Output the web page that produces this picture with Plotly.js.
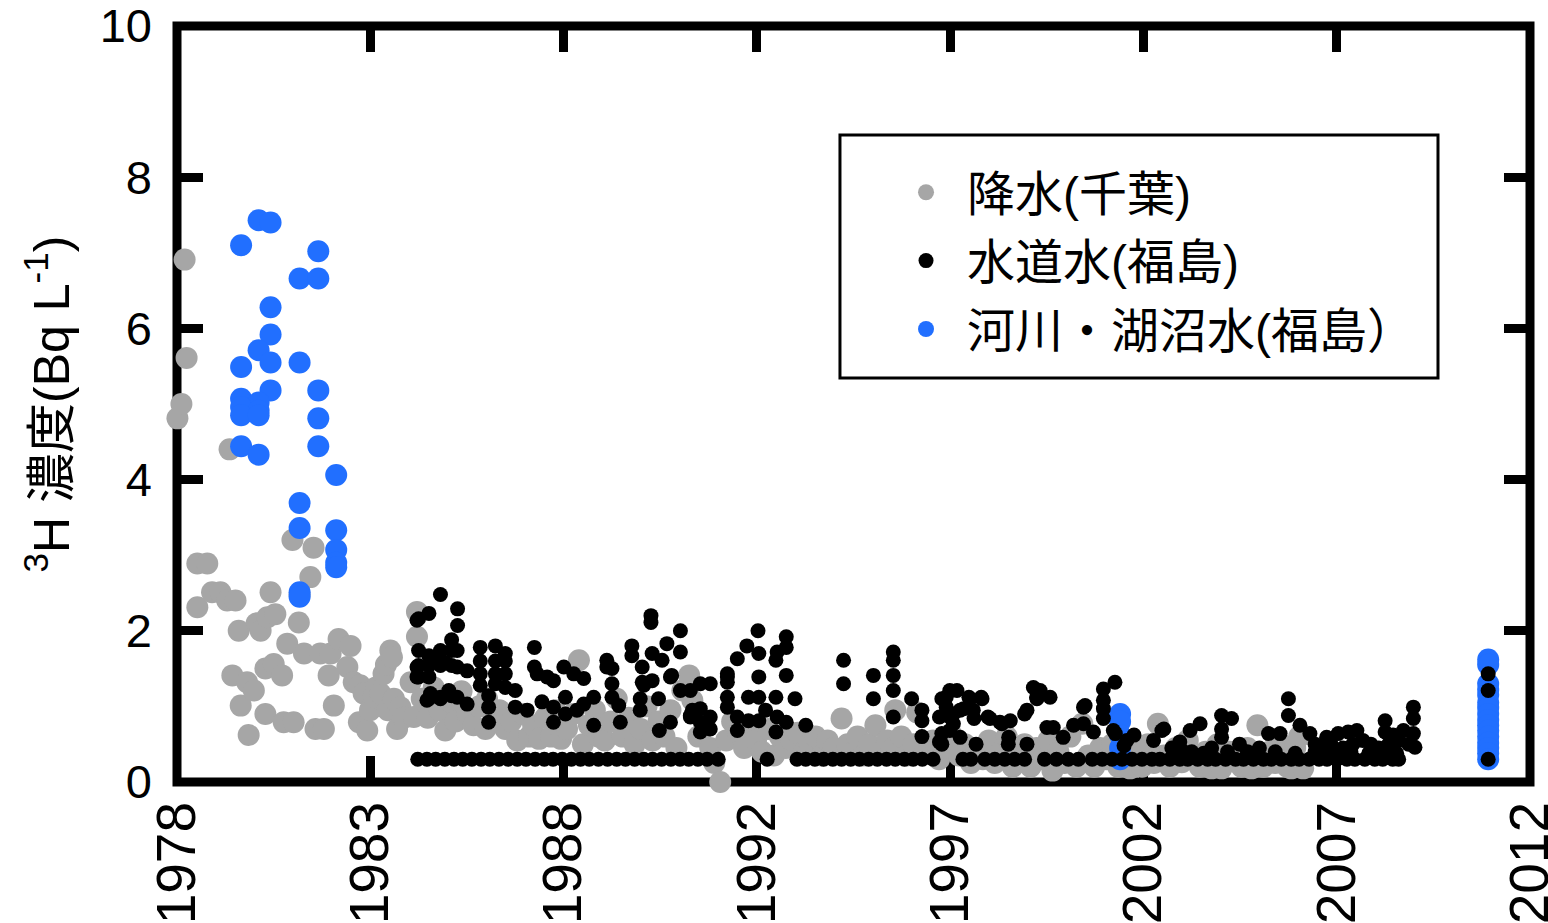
<!DOCTYPE html>
<html><head><meta charset="utf-8">
<script src="https://cdn.plot.ly/plotly-3.0.1.min.js"></script>
<style>html,body{margin:0;padding:0;background:#fff}</style>
</head><body><div id="chart" style="width:1548px;height:923px"></div>
<script>
// ---- data (decimal year, Bq/L) ----
const seriesNames = ['降水(千葉)', '水道水(福島)', '河川・湖沼水(福島）'];
const xTickVals = [1978, 1982.857, 1987.714, 1992.571, 1997.429, 2002.286, 2007.143, 2012];
const xTickText = ['1978', '1983', '1988', '1992', '1997', '2002', '2007', '2012'];
const yTickVals = [0, 2, 4, 6, 8, 10];

// precipitation (Chiba), early period
const rainEarly = [
 [1978.01,4.81],[1978.11,5.0],[1978.19,6.91],[1978.24,5.61],[1978.51,2.89],[1978.76,2.89],[1978.51,2.31],
 [1978.88,2.51],[1979.09,2.51],[1979.26,2.4],[1979.47,2.4],[1979.32,4.4],[1979.39,1.41],[1979.55,2.0],
 [1979.6,1.01],[1979.76,1.32],[1979.8,0.62],[1979.93,1.21],[1980.0,2.1],[1980.1,2.0],[1980.22,1.5],
 [1980.22,0.9],[1980.27,2.18],[1980.35,2.51],[1980.43,1.56],[1980.47,2.22],[1980.64,1.41],[1980.68,0.79],
 [1980.77,1.83],[1980.9,3.2],[1980.93,0.79],[1981.06,2.11],[1981.08,2.48],[1981.19,1.7],[1981.35,2.71],
 [1981.43,3.1],[1981.48,0.7],[1981.6,1.7],[1981.69,0.7],[1981.81,1.41],[1981.86,1.7],[1981.94,1.01],
 [1982.06,1.89],[1982.28,1.52],[1982.36,1.8],[1982.44,1.32],[1982.57,0.79],[1982.6,1.28],[1982.69,1.17],
 [1982.78,0.68],[1982.85,0.95],[1982.94,1.12],[1983.0,1.25],[1983.11,1.17],[1983.19,1.43],[1983.25,1.55],
 [1983.3,0.95],[1983.36,1.74],[1983.4,1.65],[1983.45,1.1],[1983.53,0.7],[1983.61,0.99],[1983.7,0.85],
 [1983.87,1.32],[1983.95,0.86],[1984.03,1.92],[1984.03,2.25]
];
// precipitation (Chiba), later period
const rainLate = [
 [1984.15,1.1],[1984.3,0.85],[1984.45,1.25],[1984.6,0.95],[1984.74,0.68],[1984.9,1.05],[1985.0,0.8],
 [1985.15,1.2],[1985.3,0.9],[1985.45,0.75],[1985.6,1.0],[1985.75,0.7],[1985.79,1.1],[1985.95,0.85],
 [1986.1,0.95],[1986.25,0.7],[1986.4,0.8],[1986.55,0.55],[1986.7,0.9],[1986.85,0.6],[1986.95,0.75],
 [1987.1,0.57],[1987.25,0.85],[1987.4,0.6],[1987.5,0.95],[1987.65,0.57],[1987.8,0.7],[1987.95,0.9],
 [1988.1,1.61],[1988.2,0.5],[1988.35,0.75],[1988.5,0.95],[1988.6,0.6],[1988.75,0.55],[1988.9,0.8],
 [1989.05,1.1],[1989.2,0.6],[1989.35,0.85],[1989.5,0.5],[1989.65,0.7],[1989.8,1.0],[1989.95,0.55],
 [1990.1,0.8],[1990.25,0.6],[1990.4,0.95],[1990.55,0.45],[1990.7,1.21],[1990.87,1.41],[1990.95,1.08],
 [1991.1,0.6],[1991.25,0.72],[1991.4,0.45],[1991.5,0.25],[1991.65,0.0],[1991.8,0.55],[1991.95,0.8],
 [1992.1,0.65],[1992.25,0.45],[1992.4,0.75],[1992.55,0.55],[1992.7,0.4],[1992.85,0.7],[1993.0,0.35],
 [1993.15,0.6],[1993.3,0.45],[1993.45,0.55],[1993.6,0.65],[1993.75,0.4],[1993.9,0.5],
 [1994.05,0.6],[1994.2,0.35],[1994.35,0.55],[1994.5,0.45],[1994.7,0.84],[1994.85,0.5],[1995.0,0.4],
 [1995.1,0.6],[1995.25,0.35],[1995.4,0.5],[1995.55,0.75],[1995.7,0.4],[1995.85,0.55],
 [1996.0,0.45],[1996.05,0.95],[1996.2,0.6],[1996.35,0.35],[1996.5,0.5],[1996.6,0.92],[1996.8,0.4],
 [1997.0,0.55],[1997.15,0.3],[1997.3,0.45],[1997.5,0.6],[1997.65,0.35],[1997.8,0.5],[1997.95,0.25],
 [1998.1,0.45],[1998.25,0.3],[1998.4,0.55],[1998.55,0.25],[1998.7,0.4],[1998.85,0.6],[1999.0,0.2],
 [1999.15,0.35],[1999.3,0.5],[1999.45,0.2],[1999.6,0.45],[1999.75,0.3],[1999.9,0.55],[2000.0,0.15],
 [2000.15,0.4],[2000.3,0.25],[2000.45,0.6],[2000.6,0.2],[2000.75,0.77],[2000.9,0.35],
 [2001.05,0.2],[2001.2,0.45],[2001.35,0.3],[2001.5,0.5],[2001.65,0.2],[2001.8,0.35],[2001.95,0.18],
 [2002.1,0.4],[2002.25,0.2],[2002.4,0.5],[2002.55,0.25],[2002.65,0.77],[2002.8,0.35],[2002.95,0.2],
 [2003.1,0.45],[2003.25,0.26],[2003.4,0.55],[2003.55,0.3],[2003.7,0.2],[2003.85,0.4],
 [2004.0,0.18],[2004.15,0.5],[2004.25,0.18],[2004.45,0.4],[2004.6,0.3],[2004.75,0.2],[2004.9,0.45],
 [2005.0,0.18],[2005.15,0.75],[2005.3,0.2],[2005.45,0.4],[2005.6,0.25],[2005.75,0.5],[2005.9,0.2],
 [2006.0,0.18],[2006.1,0.45],[2006.2,0.6],[2006.3,0.18]
];
// tap water (Fukushima), measured values
const tapMeasured = [
 [1984.03,2.14],[1984.03,1.52],[1984.03,1.39],[1984.07,2.16],[1984.07,1.74],[1984.07,1.54],[1984.07,1.39],
 [1984.28,1.08],[1984.33,2.23],[1984.33,1.67],[1984.33,1.54],[1984.33,1.1],[1984.33,1.39],[1984.37,1.17],
 [1984.45,1.65],[1984.62,2.48],[1984.62,1.74],[1984.62,1.54],[1984.62,1.12],[1984.62,1.1],[1984.74,1.58],
 [1984.83,1.21],[1984.9,1.88],[1984.9,1.74],[1984.9,1.54],[1984.9,1.14],[1985.04,1.74],[1985.04,1.52],
 [1985.04,1.12],[1985.05,2.29],[1985.05,2.07],[1985.29,1.47],[1985.29,1.03],[1985.62,1.78],[1985.62,1.6],
 [1985.62,1.43],[1985.62,1.28],[1985.83,1.14],[1985.83,0.99],[1985.83,0.79],[1986.0,1.8],[1986.0,1.6],
 [1986.0,1.43],[1986.0,1.3],[1986.25,1.7],[1986.25,1.6],[1986.25,1.43],[1986.25,1.25],[1986.5,1.21],
 [1986.5,0.99],[1986.8,0.95],[1986.98,1.78],[1986.98,1.52],[1987.05,1.43],[1987.17,1.06],[1987.3,1.39],
 [1987.46,1.34],[1987.46,0.99],[1987.46,0.79],[1987.72,1.52],[1987.76,1.12],[1987.76,0.9],[1987.97,1.43],
 [1988.05,0.95],[1988.22,1.37],[1988.22,1.03],[1988.47,1.12],[1988.47,0.75],[1988.8,1.61],[1988.8,1.52],
 [1988.93,1.5],[1988.93,1.3],[1988.93,1.12],[1989.1,1.01],[1989.14,0.79],[1989.43,1.8],[1989.43,1.67],
 [1989.64,1.1],[1989.64,0.95],[1989.69,1.52],[1989.69,1.32],[1989.73,1.28],[1989.91,2.2],[1989.91,2.11],
 [1989.94,1.7],[1989.94,1.34],[1990.1,1.1],[1990.12,0.68],[1990.19,1.61],[1990.31,1.83],[1990.4,1.39],
 [1990.4,0.79],[1990.43,1.41],[1990.65,2.0],[1990.65,1.72],[1990.65,1.21],[1990.9,1.21],[1990.9,0.88],
 [1990.9,0.86],[1990.95,0.95],[1991.15,1.3],[1991.15,0.97],[1991.15,0.79],[1991.15,0.66],[1991.4,1.3],
 [1991.4,0.86],[1991.4,0.7],[1991.83,1.43],[1991.83,1.32],[1991.83,1.12],[1991.83,0.99],[1991.83,1.39],
 [1992.08,1.63],[1992.08,0.86],[1992.08,0.68],[1992.32,1.8],[1992.36,1.12],[1992.36,0.81],[1992.6,2.0],
 [1992.62,1.7],[1992.62,1.39],[1992.62,1.12],[1992.62,0.81],[1992.79,0.95],[1993.05,1.61],[1993.05,1.12],
 [1993.05,0.66],[1993.08,1.72],[1993.08,0.86],[1993.31,1.92],[1993.31,1.78],[1993.31,1.41],[1993.31,0.79],
 [1993.53,1.1],[1993.8,0.75],[1994.75,1.61],[1994.75,1.3],[1995.5,1.41],[1995.5,1.1],[1996.0,1.72],
 [1996.0,1.61],[1996.0,1.41],[1996.0,1.21],[1996.0,0.86],[1996.46,1.1],[1996.72,0.95],[1996.72,0.81],
 [1996.72,0.6],
 [1997.16,0.86],[1997.16,0.53],[1997.22,1.1],[1997.22,0.64],[1997.22,0.5],[1997.33,1.12],[1997.33,0.99],
 [1997.42,1.21],[1997.42,0.68],[1997.43,0.86],[1997.51,0.77],[1997.51,0.9],[1997.6,1.21],[1997.68,0.95],
 [1997.68,0.59],[1997.77,0.97],[1997.9,1.12],[1997.93,1.1],[1998.01,0.95],[1998.03,0.84],[1998.08,0.5],
 [1998.21,1.12],[1998.23,1.1],[1998.38,0.86],[1998.43,0.84],[1998.68,0.79],[1998.73,0.77],[1998.89,0.5],
 [1998.9,0.59],[1998.94,0.81],[1999.3,0.9],[1999.36,0.5],[1999.36,0.95],[1999.52,1.25],[1999.6,1.12],
 [1999.61,1.21],[1999.61,1.1],
 [1999.69,1.21],[1999.86,0.72],[1999.94,1.12],[2000.02,0.72],[2000.27,0.59],[2000.53,0.75],[2000.78,0.99],
 [2000.78,0.77],[2000.82,1.01],[2001.03,0.66],[2001.28,1.23],[2001.28,1.08],[2001.28,0.97],[2001.28,0.84],
 [2001.53,0.68],[2001.57,1.32],[2001.58,0.64],[2001.8,0.48],[2001.87,0.55],[2002.05,0.62],
 [2002.54,0.55],[2002.75,0.68],[2002.8,0.7],[2003.0,0.45],[2003.2,0.53],[2003.46,0.68],[2003.5,0.4],
 [2003.71,0.77],[2004.0,0.45],[2004.25,0.88],[2004.25,0.7],[2004.25,0.59],[2004.5,0.84],[2004.7,0.5],
 [2004.9,0.4],[2005.2,0.45],[2005.43,0.64],[2005.72,0.64],[2005.93,1.1],[2005.93,0.88],[2006.22,0.75],
 [2006.47,0.64],[2006.6,0.5],[2006.8,0.45],[2006.89,0.59],[2007.0,0.5],[2007.18,0.64],[2007.3,0.45],
 [2007.43,0.66],[2007.55,0.5],[2007.65,0.68],[2007.8,0.55],[2008.0,0.5],[2008.2,0.45],[2008.36,0.81],
 [2008.36,0.66],[2008.45,0.5],[2008.56,0.62],[2008.7,0.55],[2008.82,0.68],[2008.95,0.5],[2009.07,0.99],
 [2009.07,0.84],[2009.07,0.64],[2009.11,0.46],
 [2010.95,1.43],[2010.95,1.21],[2010.95,0.3]
];
// tap water (Fukushima), values at the lower row
const tapLowRow = [
 [1984.05,0.3],[1984.28,0.3],[1984.5,0.3],[1984.73,0.3],[1984.96,0.3],[1985.18,0.3],[1985.41,0.3],
 [1985.64,0.3],[1985.86,0.3],[1986.09,0.3],[1986.32,0.3],[1986.55,0.3],[1986.77,0.3],[1987.0,0.3],
 [1987.23,0.3],[1987.45,0.3],[1987.68,0.3],[1987.91,0.3],[1988.14,0.3],[1988.36,0.3],[1988.59,0.3],
 [1988.82,0.3],[1989.05,0.3],[1989.27,0.3],[1989.5,0.3],[1989.73,0.3],[1989.95,0.3],[1990.18,0.3],
 [1990.41,0.3],[1990.64,0.3],[1990.86,0.3],[1991.09,0.3],[1991.32,0.3],[1991.6,0.3],
 [1992.83,0.3],
 [1993.58,0.3],[1993.8,0.3],[1994.03,0.3],[1994.25,0.3],[1994.48,0.3],[1994.7,0.3],[1994.93,0.3],
 [1995.15,0.3],[1995.38,0.3],[1995.6,0.3],[1995.83,0.3],[1996.05,0.3],[1996.28,0.3],[1996.5,0.3],
 [1996.73,0.3],[1997.0,0.3],
 [1997.75,0.3],[1997.95,0.3],[1998.3,0.3],[1998.55,0.3],[1998.8,0.3],[1999.05,0.3],[1999.3,0.3],
 [1999.8,0.3],[2000.1,0.3],[2000.4,0.3],[2000.65,0.3],[2001.0,0.3],[2001.25,0.3],[2001.5,0.3],
 [2001.75,0.3],[2002.0,0.3],[2002.25,0.3],[2002.5,0.3],[2002.7,0.3],[2002.95,0.3],[2003.2,0.3],
 [2003.4,0.3],[2003.65,0.3],[2003.9,0.3],[2004.1,0.3],[2004.35,0.3],[2004.6,0.3],[2004.8,0.3],
 [2005.05,0.3],[2005.3,0.3],[2005.5,0.3],[2005.75,0.3],[2006.0,0.3],[2006.2,0.3],[2006.45,0.3],
 [2006.7,0.3],[2006.9,0.3],[2007.15,0.3],[2007.4,0.3],[2007.6,0.3],[2007.85,0.3],[2008.1,0.3],
 [2008.3,0.3],[2008.55,0.3],[2008.7,0.3],
 [2003.3,0.4],[2003.8,0.38],[2004.4,0.4],[2005.0,0.38],[2005.6,0.4],[2006.1,0.38],[2006.6,0.4],
 [2007.0,0.38],[2007.5,0.4],[2007.95,0.38],[2008.4,0.4],[2008.65,0.38]
];
// river & lake water (Fukushima)
const riverLake = [
 [1979.61,7.1],[1980.05,7.43],[1980.35,7.4],[1981.55,7.02],[1981.08,6.66],[1981.55,6.66],[1980.35,6.28],
 [1980.35,5.92],[1980.05,5.71],[1980.35,5.55],[1981.08,5.55],[1979.61,5.49],[1980.35,5.18],[1981.55,5.18],
 [1979.61,5.07],[1980.05,5.02],[1979.61,4.96],[1980.05,4.91],[1979.61,4.85],[1980.05,4.85],[1981.55,4.81],
 [1979.61,4.44],[1980.05,4.33],[1981.55,4.44],[1982.0,4.06],[1981.08,3.69],[1981.08,3.36],[1982.0,3.33],
 [1982.0,3.07],[1982.0,2.9],[1982.0,2.84],[1981.08,2.51],[1981.08,2.45],
 [2001.7,0.9],[2001.7,0.8],[2001.7,0.62],[2001.7,0.45],[2001.7,0.3],
 [2010.95,1.62],[2010.95,1.55],[2010.95,1.3],[2010.95,1.22],[2010.95,1.15],[2010.95,1.05],[2010.95,0.98],
 [2010.95,0.9],[2010.95,0.82],[2010.95,0.75],[2010.95,0.68],[2010.95,0.6],[2010.95,0.52],[2010.95,0.45],
 [2010.95,0.38],[2010.95,0.3]
];

// ---- build traces ----
const rain = rainEarly.concat(rainLate);
const tap = tapLowRow.concat(tapMeasured);
const xs = a => a.map(p => p[0]);
const ys = a => a.map(p => p[1]);

const traces = [
  {type:'scatter', mode:'markers', name:seriesNames[0], x:xs(rain), y:ys(rain),
   marker:{size:22, color:'#a6a6a6'}, cliponaxis:false, legendgroup:'a', legendrank:1},
  {type:'scatter', mode:'markers', name:seriesNames[2], x:xs(riverLake), y:ys(riverLake),
   marker:{size:22, color:'#216fff'}, cliponaxis:false, legendgroup:'c', legendrank:3},
  {type:'scatter', mode:'markers', name:seriesNames[1], x:xs(tap), y:ys(tap),
   marker:{size:15, color:'#000000'}, cliponaxis:false, legendgroup:'b', legendrank:2}
];

const tickFontX = {family:'Liberation Sans, Arial, sans-serif', size:55, color:'#000'};
const tickFontY = {family:'Liberation Sans, Arial, sans-serif', size:47, color:'#000'};
const txtFont = 'Liberation Sans, Noto Sans CJK JP, sans-serif';

const layout = {
  width:1548, height:923,
  margin:{l:177, r:18, t:26, b:141},
  paper_bgcolor:'#ffffff', plot_bgcolor:'rgba(0,0,0,0)',
  showlegend:true,
  xaxis:{range:[1977.999,2012.001], tickmode:'array', tickvals:xTickVals, ticktext:xTickText, tickangle:-90,
    ticks:'inside', ticklen:26, tickwidth:9, tickcolor:'#000', mirror:'ticks', showline:false,
    showgrid:false, zeroline:false, layer:'below traces', tickfont:tickFontX, ticklabelstandoff:8,
    ticklabeloverflow:'allow', fixedrange:true},
  yaxis:{range:[-0.0005,10.0005], tickmode:'array', tickvals:yTickVals, ticktext:yTickVals.map(String),
    ticks:'inside', ticklen:26, tickwidth:9, tickcolor:'#000', mirror:'ticks', showline:false,
    showgrid:false, zeroline:false, layer:'below traces', tickfont:tickFontY, ticklabelstandoff:24,
    ticklabeloverflow:'allow',
    title:{text:'<sup>3</sup>H 濃度(Bq L<sup>-1</sup>)', font:{family:txtFont, size:50, color:'#000'}, standoff:14}},
  shapes:[
    {type:'rect', xref:'paper', yref:'paper', x0:0, x1:1, y0:0, y1:1, layer:'below',
     line:{color:'#000', width:9}, fillcolor:'rgba(0,0,0,0)'},
    {type:'rect', xref:'paper', yref:'paper', x0:0.4900, x1:0.9320, y0:0.5344, y1:0.8558, layer:'below',
     line:{color:'#000', width:3}, fillcolor:'#ffffff'}
  ],
  legend:{x:0.5233, y:0.8300, xanchor:'left', yanchor:'top', bgcolor:'rgba(0,0,0,0)', borderwidth:0,
    font:{family:txtFont, size:48, color:'#000'}, itemwidth:72, tracegroupgap:3, traceorder:'grouped'}
};

Plotly.newPlot('chart', traces, layout, {staticPlot:true, displayModeBar:false});
</script></body></html>
